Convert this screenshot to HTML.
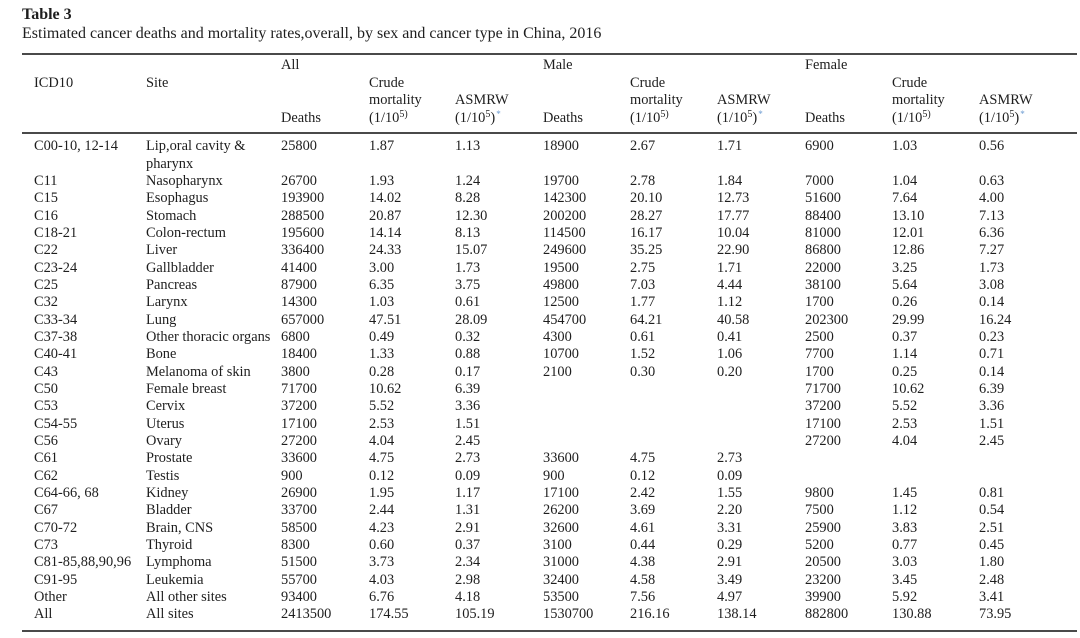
<!DOCTYPE html>
<html>
<head>
<meta charset="utf-8">
<style>
html,body{margin:0;padding:0;background:#fff;}
body{width:1080px;height:638px;position:relative;overflow:hidden;font-family:"Liberation Serif",serif;color:#1e1e1e;}
.t{position:absolute;left:22px;top:7.3px;font-size:16px;line-height:16px;font-weight:bold;white-space:nowrap;}
.st{position:absolute;left:22px;top:25.6px;font-size:16px;line-height:16px;white-space:nowrap;}
.rule{position:absolute;left:22px;width:1055px;height:2px;background:#4a4a4a;}
.r{position:absolute;left:0;width:1080px;height:17px;font-size:14.4px;line-height:17px;white-space:nowrap;}
.r > span{position:absolute;top:0;}
.c0{left:34px}.c1{left:146px}.c2{left:281px}.c3{left:369px}.c4{left:455px}
.c5{left:543px}.c6{left:630px}.c7{left:717px}.c8{left:805px}.c9{left:892px}.c10{left:979px}
.sp{font-size:10px;position:relative;top:-5px;line-height:0;}
.ast{font-size:9px;position:relative;top:-5px;line-height:0;color:#6b9bd1;margin-left:1px;}
</style>
</head>
<body>
<div class="t">Table 3</div>
<div class="st">Estimated cancer deaths and mortality rates,overall, by sex and cancer type in China, 2016</div>

<div class="rule" style="top:52.5px"></div>
<div class="rule" style="top:131.7px"></div>
<div class="rule" style="top:629.5px"></div>

<!-- header -->
<div class="r" style="top:57.4px"><span class="c2">All</span><span class="c5">Male</span><span class="c8">Female</span></div>
<div class="r" style="top:75.4px"><span class="c0">ICD10</span><span class="c1">Site</span><span class="c3">Crude</span><span class="c6">Crude</span><span class="c9">Crude</span></div>
<div class="r" style="top:92.4px"><span class="c3">mortality</span><span class="c4">ASMRW</span><span class="c6">mortality</span><span class="c7">ASMRW</span><span class="c9">mortality</span><span class="c10">ASMRW</span></div>
<div class="r" style="top:110.4px"><span class="c2">Deaths</span><span class="c3">(1/10<span class="sp">5)</span></span><span class="c4">(1/10<span class="sp">5</span>)<span class="ast">*</span></span><span class="c5">Deaths</span><span class="c6">(1/10<span class="sp">5)</span></span><span class="c7">(1/10<span class="sp">5</span>)<span class="ast">*</span></span><span class="c8">Deaths</span><span class="c9">(1/10<span class="sp">5)</span></span><span class="c10">(1/10<span class="sp">5</span>)<span class="ast">*</span></span></div>

<!-- body rows -->
<div class="r" style="top:138.4px"><span class="c0">C00-10, 12-14</span><span class="c1">Lip,oral cavity &amp;</span><span class="c2">25800</span><span class="c3">1.87</span><span class="c4">1.13</span><span class="c5">18900</span><span class="c6">2.67</span><span class="c7">1.71</span><span class="c8">6900</span><span class="c9">1.03</span><span class="c10">0.56</span></div>
<div class="r" style="top:155.7px"><span class="c1">pharynx</span></div>
<div class="r" style="top:173.1px"><span class="c0">C11</span><span class="c1">Nasopharynx</span><span class="c2">26700</span><span class="c3">1.93</span><span class="c4">1.24</span><span class="c5">19700</span><span class="c6">2.78</span><span class="c7">1.84</span><span class="c8">7000</span><span class="c9">1.04</span><span class="c10">0.63</span></div>
<div class="r" style="top:190.4px"><span class="c0">C15</span><span class="c1">Esophagus</span><span class="c2">193900</span><span class="c3">14.02</span><span class="c4">8.28</span><span class="c5">142300</span><span class="c6">20.10</span><span class="c7">12.73</span><span class="c8">51600</span><span class="c9">7.64</span><span class="c10">4.00</span></div>
<div class="r" style="top:207.7px"><span class="c0">C16</span><span class="c1">Stomach</span><span class="c2">288500</span><span class="c3">20.87</span><span class="c4">12.30</span><span class="c5">200200</span><span class="c6">28.27</span><span class="c7">17.77</span><span class="c8">88400</span><span class="c9">13.10</span><span class="c10">7.13</span></div>
<div class="r" style="top:225.1px"><span class="c0">C18-21</span><span class="c1">Colon-rectum</span><span class="c2">195600</span><span class="c3">14.14</span><span class="c4">8.13</span><span class="c5">114500</span><span class="c6">16.17</span><span class="c7">10.04</span><span class="c8">81000</span><span class="c9">12.01</span><span class="c10">6.36</span></div>
<div class="r" style="top:242.4px"><span class="c0">C22</span><span class="c1">Liver</span><span class="c2">336400</span><span class="c3">24.33</span><span class="c4">15.07</span><span class="c5">249600</span><span class="c6">35.25</span><span class="c7">22.90</span><span class="c8">86800</span><span class="c9">12.86</span><span class="c10">7.27</span></div>
<div class="r" style="top:259.7px"><span class="c0">C23-24</span><span class="c1">Gallbladder</span><span class="c2">41400</span><span class="c3">3.00</span><span class="c4">1.73</span><span class="c5">19500</span><span class="c6">2.75</span><span class="c7">1.71</span><span class="c8">22000</span><span class="c9">3.25</span><span class="c10">1.73</span></div>
<div class="r" style="top:277.0px"><span class="c0">C25</span><span class="c1">Pancreas</span><span class="c2">87900</span><span class="c3">6.35</span><span class="c4">3.75</span><span class="c5">49800</span><span class="c6">7.03</span><span class="c7">4.44</span><span class="c8">38100</span><span class="c9">5.64</span><span class="c10">3.08</span></div>
<div class="r" style="top:294.4px"><span class="c0">C32</span><span class="c1">Larynx</span><span class="c2">14300</span><span class="c3">1.03</span><span class="c4">0.61</span><span class="c5">12500</span><span class="c6">1.77</span><span class="c7">1.12</span><span class="c8">1700</span><span class="c9">0.26</span><span class="c10">0.14</span></div>
<div class="r" style="top:311.7px"><span class="c0">C33-34</span><span class="c1">Lung</span><span class="c2">657000</span><span class="c3">47.51</span><span class="c4">28.09</span><span class="c5">454700</span><span class="c6">64.21</span><span class="c7">40.58</span><span class="c8">202300</span><span class="c9">29.99</span><span class="c10">16.24</span></div>
<div class="r" style="top:329.0px"><span class="c0">C37-38</span><span class="c1">Other thoracic organs</span><span class="c2">6800</span><span class="c3">0.49</span><span class="c4">0.32</span><span class="c5">4300</span><span class="c6">0.61</span><span class="c7">0.41</span><span class="c8">2500</span><span class="c9">0.37</span><span class="c10">0.23</span></div>
<div class="r" style="top:346.4px"><span class="c0">C40-41</span><span class="c1">Bone</span><span class="c2">18400</span><span class="c3">1.33</span><span class="c4">0.88</span><span class="c5">10700</span><span class="c6">1.52</span><span class="c7">1.06</span><span class="c8">7700</span><span class="c9">1.14</span><span class="c10">0.71</span></div>
<div class="r" style="top:363.7px"><span class="c0">C43</span><span class="c1">Melanoma of skin</span><span class="c2">3800</span><span class="c3">0.28</span><span class="c4">0.17</span><span class="c5">2100</span><span class="c6">0.30</span><span class="c7">0.20</span><span class="c8">1700</span><span class="c9">0.25</span><span class="c10">0.14</span></div>
<div class="r" style="top:381.0px"><span class="c0">C50</span><span class="c1">Female breast</span><span class="c2">71700</span><span class="c3">10.62</span><span class="c4">6.39</span><span class="c8">71700</span><span class="c9">10.62</span><span class="c10">6.39</span></div>
<div class="r" style="top:398.3px"><span class="c0">C53</span><span class="c1">Cervix</span><span class="c2">37200</span><span class="c3">5.52</span><span class="c4">3.36</span><span class="c8">37200</span><span class="c9">5.52</span><span class="c10">3.36</span></div>
<div class="r" style="top:415.7px"><span class="c0">C54-55</span><span class="c1">Uterus</span><span class="c2">17100</span><span class="c3">2.53</span><span class="c4">1.51</span><span class="c8">17100</span><span class="c9">2.53</span><span class="c10">1.51</span></div>
<div class="r" style="top:433.0px"><span class="c0">C56</span><span class="c1">Ovary</span><span class="c2">27200</span><span class="c3">4.04</span><span class="c4">2.45</span><span class="c8">27200</span><span class="c9">4.04</span><span class="c10">2.45</span></div>
<div class="r" style="top:450.3px"><span class="c0">C61</span><span class="c1">Prostate</span><span class="c2">33600</span><span class="c3">4.75</span><span class="c4">2.73</span><span class="c5">33600</span><span class="c6">4.75</span><span class="c7">2.73</span></div>
<div class="r" style="top:467.7px"><span class="c0">C62</span><span class="c1">Testis</span><span class="c2">900</span><span class="c3">0.12</span><span class="c4">0.09</span><span class="c5">900</span><span class="c6">0.12</span><span class="c7">0.09</span></div>
<div class="r" style="top:485.0px"><span class="c0">C64-66, 68</span><span class="c1">Kidney</span><span class="c2">26900</span><span class="c3">1.95</span><span class="c4">1.17</span><span class="c5">17100</span><span class="c6">2.42</span><span class="c7">1.55</span><span class="c8">9800</span><span class="c9">1.45</span><span class="c10">0.81</span></div>
<div class="r" style="top:502.3px"><span class="c0">C67</span><span class="c1">Bladder</span><span class="c2">33700</span><span class="c3">2.44</span><span class="c4">1.31</span><span class="c5">26200</span><span class="c6">3.69</span><span class="c7">2.20</span><span class="c8">7500</span><span class="c9">1.12</span><span class="c10">0.54</span></div>
<div class="r" style="top:519.6px"><span class="c0">C70-72</span><span class="c1">Brain, CNS</span><span class="c2">58500</span><span class="c3">4.23</span><span class="c4">2.91</span><span class="c5">32600</span><span class="c6">4.61</span><span class="c7">3.31</span><span class="c8">25900</span><span class="c9">3.83</span><span class="c10">2.51</span></div>
<div class="r" style="top:537.0px"><span class="c0">C73</span><span class="c1">Thyroid</span><span class="c2">8300</span><span class="c3">0.60</span><span class="c4">0.37</span><span class="c5">3100</span><span class="c6">0.44</span><span class="c7">0.29</span><span class="c8">5200</span><span class="c9">0.77</span><span class="c10">0.45</span></div>
<div class="r" style="top:554.3px"><span class="c0">C81-85,88,90,96</span><span class="c1">Lymphoma</span><span class="c2">51500</span><span class="c3">3.73</span><span class="c4">2.34</span><span class="c5">31000</span><span class="c6">4.38</span><span class="c7">2.91</span><span class="c8">20500</span><span class="c9">3.03</span><span class="c10">1.80</span></div>
<div class="r" style="top:571.6px"><span class="c0">C91-95</span><span class="c1">Leukemia</span><span class="c2">55700</span><span class="c3">4.03</span><span class="c4">2.98</span><span class="c5">32400</span><span class="c6">4.58</span><span class="c7">3.49</span><span class="c8">23200</span><span class="c9">3.45</span><span class="c10">2.48</span></div>
<div class="r" style="top:589.0px"><span class="c0">Other</span><span class="c1">All other sites</span><span class="c2">93400</span><span class="c3">6.76</span><span class="c4">4.18</span><span class="c5">53500</span><span class="c6">7.56</span><span class="c7">4.97</span><span class="c8">39900</span><span class="c9">5.92</span><span class="c10">3.41</span></div>
<div class="r" style="top:606.3px"><span class="c0">All</span><span class="c1">All sites</span><span class="c2">2413500</span><span class="c3">174.55</span><span class="c4">105.19</span><span class="c5">1530700</span><span class="c6">216.16</span><span class="c7">138.14</span><span class="c8">882800</span><span class="c9">130.88</span><span class="c10">73.95</span></div>
</body>
</html>
